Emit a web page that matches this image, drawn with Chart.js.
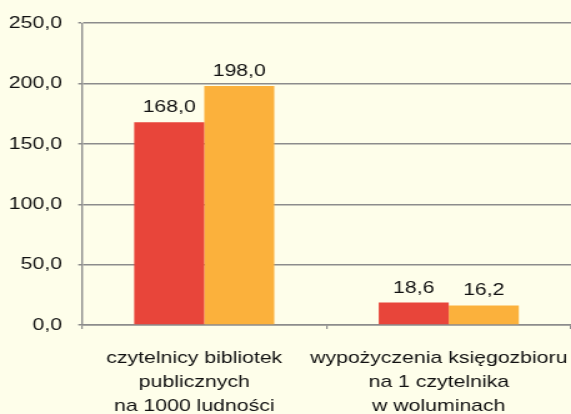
<!DOCTYPE html>
<html>
<head>
<meta charset="utf-8">
<script src="https://cdn.jsdelivr.net/npm/chart.js@4.4.0/dist/chart.umd.min.js"></script>
<style>
  html, body { margin: 0; padding: 0; background: #fefeea; overflow: hidden; }
  /* oryginał jest rozciągnięty w poziomie ~1.25x */
  #wrap { width: 457px; height: 414px; transform: scaleX(1.2495); transform-origin: 0 0; }
</style>
</head>
<body>
<div id="wrap"><canvas id="myChart"></canvas></div>
<script>
// dane z wykresu
const categories = [
  ['czytelnicy bibliotek', 'publicznych', 'na 1000 ludności'],
  ['wypożyczenia księgozbioru', 'na 1 czytelnika', 'w woluminach']
];
const series1 = [168.0, 18.6];
const series2 = [198.0, 16.2];
const yTicks = [0, 50, 100, 150, 200, 250];

const fmt = v => v.toFixed(1).replace('.', ',');
const FONT = '"Liberation Sans", Arial, sans-serif';

// etykiety nad słupkami
const valueLabels = {
  id: 'valueLabels',
  afterDatasetsDraw(chart) {
    const ctx = chart.ctx;
    ctx.save();
    ctx.font = '17px ' + FONT;
    ctx.fillStyle = '#111';
    ctx.textAlign = 'center';
    ctx.textBaseline = 'alphabetic';
    chart.data.datasets.forEach((ds, i) => {
      chart.getDatasetMeta(i).data.forEach((bar, j) => {
        ctx.fillText(fmt(ds.data[j]), bar.x, bar.y - 10);
      });
    });
    ctx.restore();
  }
};

const ctx = document.getElementById('myChart');
new Chart(ctx, {
  type: 'bar',
  data: {
    labels: categories,
    datasets: [
      { label: 'seria 1', data: series1, backgroundColor: '#e8453a', borderWidth: 0 },
      { label: 'seria 2', data: series2, backgroundColor: '#fbb13c', borderWidth: 0 }
    ]
  },
  options: {
    responsive: true,
    maintainAspectRatio: false,
    animation: false,
    layout: { padding: { top: 23, right: 0, left: 0, bottom: 0 } },
    plugins: {
      legend: { display: false },
      tooltip: { enabled: false }
    },
    datasets: {
      bar: { categoryPercentage: 0.573, barPercentage: 1.0 }
    },
    scales: {
      x: {
        grid: { drawOnChartArea: false, drawTicks: true, tickLength: 4, color: '#8c8c8c', lineWidth: 1.2 },
        border: { color: '#8c8c8c', width: 1.5 },
        ticks: {
          color: '#111',
          padding: 17,
          maxRotation: 0,
          minRotation: 0,
          autoSkip: false,
          labelOffset: -8,
          font: { family: FONT, size: 17, lineHeight: 1.41 }
        },
        afterFit(scale) {
          scale.height = 89;
          scale.paddingLeft = 0;
          scale.paddingRight = 0;
        }
      },
      y: {
        min: 0,
        max: 250,
        afterBuildTicks(scale) { scale.ticks = yTicks.map(v => ({ value: v })); },
        grid: { color: '#8c8c8c', lineWidth: 1.5, tickLength: 3 },
        border: { color: '#8c8c8c', width: 1.4 },
        ticks: {
          color: '#111',
          padding: 13,
          font: { family: FONT, size: 17 },
          callback: v => fmt(v)
        },
        afterFit(scale) { scale.width = 65.6; }
      }
    }
  },
  plugins: [valueLabels]
});
</script>
</body>
</html>
